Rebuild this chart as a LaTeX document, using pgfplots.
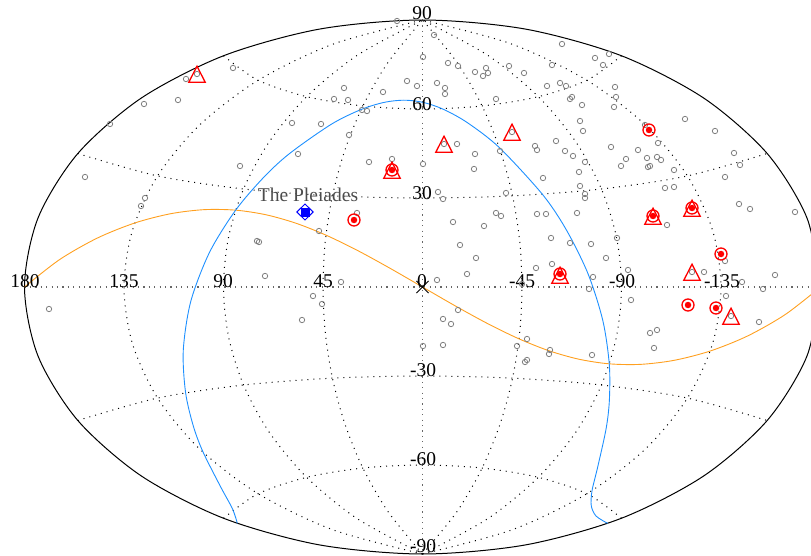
\documentclass[border=0pt]{standalone}
\usepackage{fontspec}
\setmainfont{Liberation Serif}
\usepackage{pgfplots}
\usepackage{pgfplotstable}
\pgfplotsset{compat=1.18}
% grid lines in normalised projected coordinates (u,v)
\pgfplotstableread{
u v
-0.86603 0.5
-0.66569 0.41600
-0.44960 0.36710
-0.22627 0.34138
0 0.33333
0.22627 0.34138
0.44960 0.36710
0.66569 0.41600
0.86603 0.5
}\parthirty
\pgfplotstableread{
u v
-0.5 0.86603
-0.41296 0.77420
-0.29101 0.71283
-0.14980 0.67800
0 0.66667
0.14980 0.67800
0.29101 0.71283
0.41296 0.77420
0.5 0.86603
}\parsixty
\pgfplotstableread{
u v
0 -1
0.08633 -0.84189
0.14980 -0.67800
0.19544 -0.51071
0.22627 -0.34138
0.24421 -0.17099
0.25 0
0.24421 0.17099
0.22627 0.34138
0.19544 0.51071
0.14980 0.67800
0.08633 0.84189
0 1
}\merA
\pgfplotstableread{
u v
0 -1
0.16434 -0.86737
0.29101 -0.71283
0.38490 -0.54433
0.44960 -0.36710
0.48752 -0.18474
0.5 0
0.48752 0.18474
0.44960 0.36710
0.38490 0.54433
0.29101 0.71283
0.16434 0.86737
0 1
}\merB
\pgfplotstableread{
u v
0 -1
0.22513 -0.90940
0.41296 -0.77420
0.56025 -0.60641
0.66569 -0.41600
0.72895 -0.21141
0.75 0
0.72895 0.21141
0.66569 0.41600
0.56025 0.60641
0.41296 0.77420
0.22513 0.90940
0 1
}\merC
\pgfplotstableread{
u v
1 0
0.96593 0.25882
0.86603 0.5
0.70711 0.70711
0.5 0.86603
0.25882 0.96593
0 1
-0.25882 0.96593
-0.5 0.86603
-0.70711 0.70711
-0.86603 0.5
-0.96593 0.25882
-1 0
-0.96593 -0.25882
-0.86603 -0.5
-0.70711 -0.70711
-0.5 -0.86603
-0.25882 -0.96593
0 -1
0.25882 -0.96593
0.5 -0.86603
0.70711 -0.70711
0.86603 -0.5
0.96593 -0.25882
1 0
}\border
% ecliptic: u>0 lies to the left of the centre
\pgfplotstableread{
u v
1 0
0.91136 0.10315
0.81691 0.18333
0.72284 0.23980
0.63294 0.27442
0.54873 0.28967
0.46936 0.28778
0.39329 0.27057
0.31833 0.23906
0.24243 0.19417
0.16410 0.13743
0.08299 0.07134
0 0
-0.08299 -0.07134
-0.16410 -0.13743
-0.24243 -0.19417
-0.31833 -0.23906
-0.39329 -0.27057
-0.46936 -0.28778
-0.54873 -0.28967
-0.63294 -0.27442
-0.72284 -0.23980
-0.81691 -0.18333
-0.91136 -0.10315
-1 0
}\ecliptic
% galactic plane
\pgfplotstableread{
u v
0.46520 -0.88521
0.47741 -0.83090
0.50655 -0.75027
0.55103 -0.61931
0.57555 -0.52214
0.59528 -0.39537
0.60103 -0.23623
0.58217 -0.05348
0.53513 0.12977
0.46926 0.28828
0.39894 0.41086
0.33380 0.50015
0.22951 0.60922
0.15398 0.66489
0.09598 0.69162
0.04682 0.69963
0 0.69200
-0.05045 0.66687
-0.11156 0.61667
-0.19265 0.52274
-0.30144 0.34677
-0.36183 0.21284
-0.41582 0.04978
-0.45300 -0.12526
-0.46926 -0.28828
-0.46952 -0.42407
-0.46136 -0.53045
-0.44014 -0.67454
-0.42605 -0.76201
-0.42399 -0.81867
-0.43595 -0.85765
-0.46520 -0.88521
}\galplane
\pgfplotstableread{
x y
197 74
186 79
233 68
144 104
178 100
110 124
344 88
334 99
348 100
383 92
362 110
367 111
292 123
321 124
349 135
298 154
240 166
369 162
392 159
85 177
145 198
141 206
357 213
319 231
257 241
259 242
265 276
397 21
341 282
434 35
423 57
448 63
458 66
407 81
417 86
437 83
445 88
445 94
475 72
486 68
488 73
483 76
509 66
524 73
496 99
562 44
552 65
595 58
609 54
603 65
547 86
560 83
566 86
615 87
616 97
572 97
570 99
582 105
614 107
580 121
583 131
645 125
685 119
715 131
512 132
444 144
457 144
475 154
474 169
423 164
500 151
535 146
537 150
556 141
565 151
573 156
585 162
579 172
611 147
638 150
658 143
626 159
621 166
647 158
657 157
661 160
650 166
648 167
674 170
734 153
740 165
725 177
665 188
674 187
543 178
580 186
585 194
585 198
506 193
438 192
443 199
496 213
501 216
453 222
484 226
537 214
546 214
577 213
739 204
750 209
795 212
667 225
551 238
570 243
591 244
617 238
460 245
476 258
606 258
552 264
536 268
467 274
437 280
522 284
593 277
628 270
692 272
704 272
725 261
742 282
775 275
763 289
589 289
631 300
726 296
458 310
443 319
451 324
731 316
759 322
650 333
657 330
654 348
423 346
443 345
517 346
527 339
550 350
549 354
592 355
527 360
525 362
313 296
322 304
302 320
49 309
}\graypts
\pgfplotstableread{
x y
197 74
444 144
512 132
392 170
560 275
653 216
692 208
692 272
731 316
}\triangles
\pgfplotstableread{
x y
649 130
392 170
354 220
560 274
653 216
692 208
721 254
688 305
716 308
}\targets
\pgfdeclareplotmark{tri}{%
  \pgfpathmoveto{\pgfqpoint{0pt}{7.8pt}}%
  \pgfpathlineto{\pgfqpoint{8.2pt}{-8.2pt}}%
  \pgfpathlineto{\pgfqpoint{-8.2pt}{-8.2pt}}%
  \pgfpathclose\pgfusepathqstroke}
\pgfplotsset{
  gridl/.style={black,line width=1pt,dash pattern=on 1pt off 5pt,no marks},
  gridc/.style={black!60,line width=1.4pt,dash pattern=on 1.2pt off 4.2pt,no marks}}
\begin{document}
\begin{tikzpicture}[x=1pt,y=1pt]
\path[use as bounding box] (0,0) rectangle (811pt,556pt);
\begin{axis}[at={(0pt,0pt)},anchor=south west,scale only axis,width=811pt,height=556pt,
  xmin=0,xmax=811,ymin=0,ymax=556,y dir=reverse,axis lines=none,clip=true]
% graticule
\addplot[gridc] coordinates {(422.5,20) (422.5,554)};
\addplot[gridc] coordinates {(24.5,287) (820.5,287)};
\addplot[gridl,smooth] table[x expr=422.5+398*\thisrow{u},y expr=287-267*\thisrow{v}] {\parthirty};
\addplot[gridl,smooth] table[x expr=422.5+398*\thisrow{u},y expr=287+267*\thisrow{v}] {\parthirty};
\addplot[gridl,smooth] table[x expr=422.5+398*\thisrow{u},y expr=287-267*\thisrow{v}] {\parsixty};
\addplot[gridl,smooth] table[x expr=422.5+398*\thisrow{u},y expr=287+267*\thisrow{v}] {\parsixty};
\addplot[gridl,smooth] table[x expr=422.5+398*\thisrow{u},y expr=287-267*\thisrow{v}] {\merA};
\addplot[gridl,smooth] table[x expr=422.5-398*\thisrow{u},y expr=287-267*\thisrow{v}] {\merA};
\addplot[gridl,smooth] table[x expr=422.5+398*\thisrow{u},y expr=287-267*\thisrow{v}] {\merB};
\addplot[gridl,smooth] table[x expr=422.5-398*\thisrow{u},y expr=287-267*\thisrow{v}] {\merB};
\addplot[gridl,smooth] table[x expr=422.5+398*\thisrow{u},y expr=287-267*\thisrow{v}] {\merC};
\addplot[gridl,smooth] table[x expr=422.5-398*\thisrow{u},y expr=287-267*\thisrow{v}] {\merC};
\addplot[black,line width=1pt,smooth,no marks] table[x expr=422.5+398*\thisrow{u},y expr=287-267*\thisrow{v}] {\border};
\addplot[color={rgb,255:red,255;green,160;blue,32},line width=0.9pt,smooth,no marks] table[x expr=422.5-398*\thisrow{u},y expr=287-267*\thisrow{v}] {\ecliptic};
\addplot[color={rgb,255:red,30;green,144;blue,255},line width=0.9pt,smooth,no marks] table[x expr=422.5-398*\thisrow{u},y expr=287-267*\thisrow{v}] {\galplane};
% objects
\addplot[only marks,mark=o,mark size=2.7pt,mark options={draw=black!50,line width=0.8pt,fill=none}] table[x=x,y=y] {\graypts};
\addplot[only marks,mark=tri,mark options={draw=red,line width=1.3pt,fill=none}] table[x=x,y=y] {\triangles};
\addplot[only marks,mark=o,mark size=6pt,mark options={draw=red,line width=1.3pt,fill=none}] table[x=x,y=y] {\targets};
\addplot[red,only marks,mark=*,mark size=3.1pt,mark options={draw=red,fill=red,line width=0.2pt}] table[x=x,y=y] {\targets};
% Pleiades
\addplot[only marks,mark=diamond,mark size=8pt,mark options={draw=blue,line width=1pt,xscale=1.35}] coordinates {(305,212)};
\addplot[blue,only marks,mark=square*,mark size=3.9pt,mark options={draw=blue,fill=blue,line width=0.2pt}] coordinates {(305,212)};
\addplot[only marks,mark=x,mark size=8.5pt,mark options={draw=black,line width=1pt}] coordinates {(422.5,287)};
% labels
\node[font=\fontsize{19.5}{19.5}\selectfont,text=black!70,inner sep=0pt] at (axis cs:308,195) {The Pleiades};
\foreach \px/\py/\t in {25/281/180,124/281/135,223/281/90,323/281/45,422/281/0,522/281/-45,622/281/-90,722/281/-135,422/13/90,422/104/60,422/193/30,423/370/-30,423/459/-60,423/546.5/-90}{
  \edef\tmp{\noexpand\node[font=\noexpand\fontsize{19.5}{19.5}\noexpand\selectfont,inner sep=0pt] at (axis cs:\px,\py) {\t};}\tmp
}
\end{axis}
\end{tikzpicture}
\end{document}
